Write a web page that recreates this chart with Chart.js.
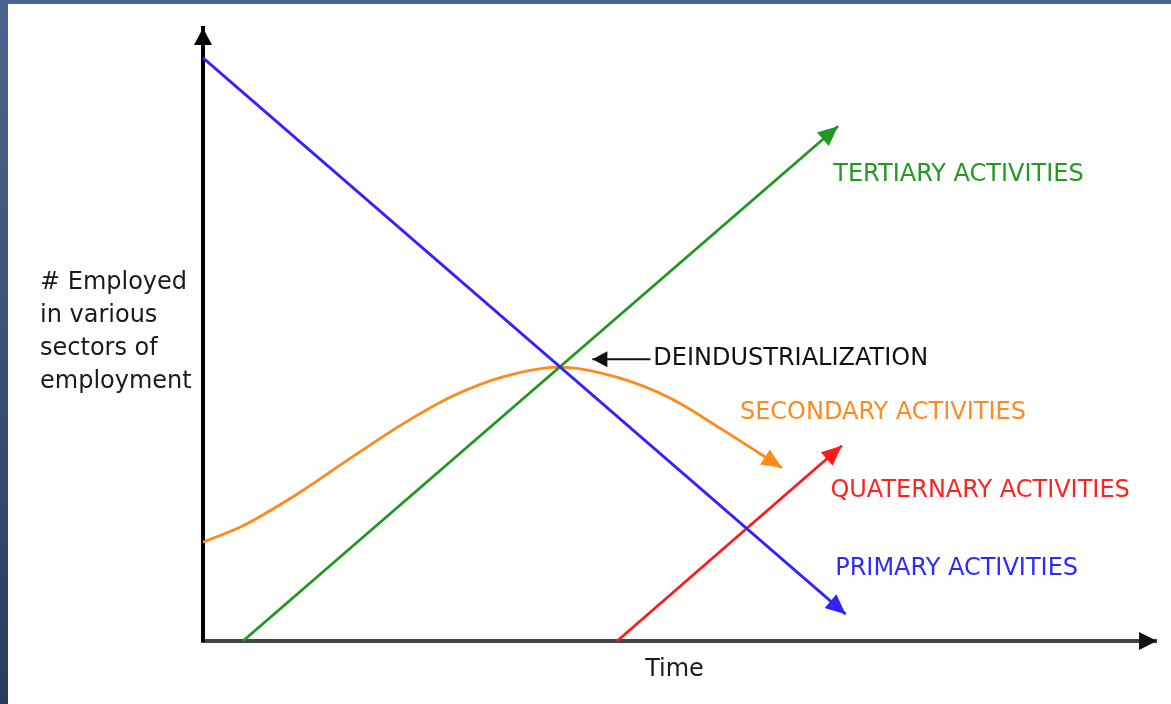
<!DOCTYPE html>
<html>
<head>
<meta charset="utf-8">
<script src="https://cdn.jsdelivr.net/npm/chart.js@4.4.1/dist/chart.umd.min.js"></script>
<style>
  body {
    margin: 0;
    width: 1171px;
    height: 704px;
    overflow: hidden;
    background: linear-gradient(#4b6590, #2b3b5e);
  }
  #wrap {
    position: absolute;
    left: 8px;
    top: 4px;
    width: 1163px;
    height: 700px;
    background: #fff;
  }
</style>
</head>
<body>
<div id="wrap"><canvas id="chart" width="1163" height="700"></canvas></div>
<script>
// values (time 0..100, employed 0..100)
const primaryX = [0, 67.5];
const primaryY = [95.6, 4.4];
const tertiaryX = [4.2, 66.7];
const tertiaryY = [0, 84.4];
const quaternaryX = [43.5, 67.1];
const quaternaryY = [0, 32.0];
const secondaryX = [0, 4.2, 9.7, 15.8, 21.0, 26.3, 31.5, 37.5, 43.8, 49.1, 54.3, 60.8];
const secondaryY = [16.2, 18.9, 23.9, 30.3, 35.6, 40.2, 43.3, 44.9, 43.1, 39.8, 34.9, 28.4];
const pointerX = [47.0, 40.9];
const pointerY = [46.2, 46.2];

const yLabelLines = ['# Employed', 'in various', 'sectors of', 'employment'];
const xLabel = 'Time';

// label text, anchor (left, middle) in data units
const labelText = ['TERTIARY ACTIVITIES', 'DEINDUSTRIALIZATION', 'SECONDARY ACTIVITIES', 'QUATERNARY ACTIVITIES', 'PRIMARY ACTIVITIES'];
const labelX = [66.2, 47.3, 56.4, 65.9, 66.4];
const labelY = [76.4, 46.2, 37.4, 24.6, 11.8];
const labelColor = ['#229922', '#111111', '#ff8a1f', '#ff2222', '#2b2bff'];

const toPts = (xs, ys) => xs.map((x, i) => ({ x: x, y: ys[i] }));

const FONT = '"DejaVu Sans", Verdana, sans-serif';

function drawHead(ctx, tipX, tipY, fromX, fromY, len, half, color) {
  const a = Math.atan2(tipY - fromY, tipX - fromX);
  ctx.save();
  ctx.translate(tipX, tipY);
  ctx.rotate(a);
  ctx.fillStyle = color;
  ctx.beginPath();
  ctx.moveTo(0, 0);
  ctx.lineTo(-len, -half);
  ctx.lineTo(-len, half);
  ctx.closePath();
  ctx.fill();
  ctx.restore();
}

const arrowPlugin = {
  id: 'arrows',
  afterDatasetsDraw(chart) {
    const ctx = chart.ctx;
    chart.data.datasets.forEach((ds, i) => {
      if (!ds.arrowHead) return;
      const pts = chart.getDatasetMeta(i).data;
      const last = pts[pts.length - 1];
      let fx = pts[pts.length - 2].x, fy = pts[pts.length - 2].y;
      if (last.cp1x !== undefined && Math.hypot(last.cp1x - last.x, last.cp1y - last.y) > 1) {
        fx = last.cp1x; fy = last.cp1y;
      }
      drawHead(ctx, last.x, last.y, fx, fy, ds.arrowHead[0], ds.arrowHead[1], ds.borderColor);
    });
    // axis arrowheads
    const a = chart.chartArea;
    drawHead(ctx, a.left, a.top, a.left, a.top + 50, 17, 9, '#000');
    drawHead(ctx, a.right + 1, a.bottom, a.right - 50, a.bottom, 18, 9, '#111');
  },
  afterDraw(chart) {
    const ctx = chart.ctx;
    const xs = chart.scales.x, ys = chart.scales.y;
    ctx.save();
    ctx.textBaseline = 'middle';
    ctx.font = '24px ' + FONT;
    labelText.forEach((t, i) => {
      ctx.fillStyle = labelColor[i];
      ctx.fillText(t, xs.getPixelForValue(labelX[i]), ys.getPixelForValue(labelY[i]));
    });
    ctx.fillStyle = '#1a1a1a';
    ctx.font = '24px ' + FONT;
    yLabelLines.forEach((t, i) => ctx.fillText(t, 32, 279 + i * 33));
    ctx.textAlign = 'center';
    ctx.fillText(xLabel, (chart.chartArea.left + chart.chartArea.right) / 2 - 5, 666);
    ctx.restore();
  }
};

const lineDs = (pts, color, extra) => Object.assign({
  data: pts,
  borderColor: color,
  backgroundColor: color,
  borderWidth: 2.8,
  pointRadius: 0,
  showLine: true,
  fill: false,
  clip: false,
  arrowHead: [20, 9]
}, extra || {});

new Chart(document.getElementById('chart'), {
  type: 'scatter',
  data: {
    datasets: [
      lineDs(toPts(primaryX, primaryY), '#3322ff'),
      lineDs(toPts(tertiaryX, tertiaryY), '#1f981f'),
      lineDs(toPts(quaternaryX, quaternaryY), '#ff1a1a'),
      lineDs(toPts(secondaryX, secondaryY), '#ff8a1a', { cubicInterpolationMode: 'monotone' }),
      lineDs(toPts(pointerX, pointerY), '#111111', { borderWidth: 2, arrowHead: [15, 8] })
    ]
  },
  options: {
    responsive: false,
    animation: false,
    events: [],
    layout: { padding: { left: 195, top: 24, right: 15, bottom: 63 } },
    plugins: { legend: { display: false }, tooltip: { enabled: false } },
    scales: {
      x: {
        type: 'linear',
        min: 0,
        max: 100.1,
        ticks: { display: false },
        grid: { display: false, drawTicks: false },
        border: { display: true, color: '#444', width: 4 }
      },
      y: {
        type: 'linear',
        min: 0,
        max: 100.5,
        ticks: { display: false },
        grid: { display: false, drawTicks: false },
        border: { display: true, color: '#000', width: 4 }
      }
    }
  },
  plugins: [arrowPlugin]
});
</script>
</body>
</html>
